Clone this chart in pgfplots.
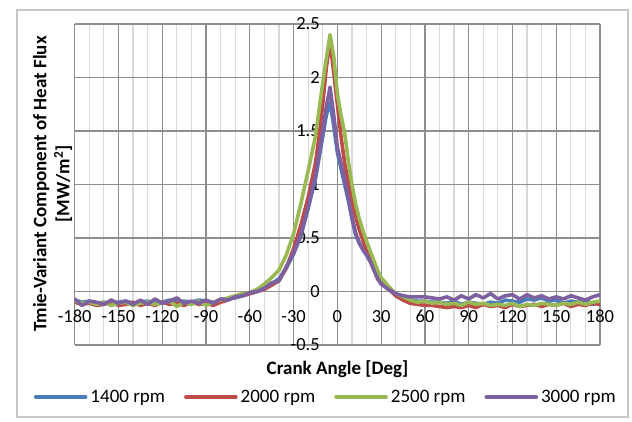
\documentclass[border=0pt]{standalone}
\usepackage{pgfplots}
\pgfplotsset{compat=1.18}
\usepackage{fontspec}
\setmainfont{Carlito}
\definecolor{cblue}{HTML}{4A7EBB}
\definecolor{cred}{HTML}{BE4B48}
\definecolor{cgreen}{HTML}{98B954}
\definecolor{cpurple}{HTML}{7D60A0}
\definecolor{gmajor}{HTML}{8E8E8E}
\definecolor{gminor}{HTML}{DADADA}
\begin{document}
\begin{tikzpicture}[x=1pt,y=1pt]
\useasboundingbox (0,0) rectangle (632,422);
\draw[gray!45, line width=1.3pt] (17,5) rectangle (628,412);
\begin{axis}[
  at={(74.7pt,77pt)}, anchor=south west,
  scale only axis, width=525.3pt, height=321pt,
  xmin=-180, xmax=180, ymin=-0.5, ymax=2.5,
  axis lines=middle,
  axis line style={-, draw=gmajor, line width=1.2pt},
  xtick={-180,-150,-120,-90,-60,-30,0,30,60,90,120,150,180},
  ytick={-0.5,0,0.5,1,1.5,2,2.5},
  minor x tick num=2,
  grid=both,
  major grid style={draw=gmajor, line width=1.2pt},
  minor grid style={draw=gminor, line width=1.2pt},
  tick style={draw=none},
  hide obscured x ticks=false, hide obscured y ticks=false,
  /pgf/number format/assume math mode=true,
  tick label style={font=\fontsize{18.5}{20}\selectfont},
  xticklabel style={anchor=north, yshift=-13pt},
  yticklabel style={anchor=east, xshift=-12pt},
  every axis plot/.append style={line width=3.6pt, line join=round, line cap=round},
  legend columns=4,
  legend cell align=left,
  legend image code/.code={\draw[#1] (0pt,0pt) -- (50pt,0pt);},
  legend style={at={(0.478,-0.162)}, anchor=center, draw=none, fill=none,
    font=\fontsize{19}{21}\selectfont, inner sep=0pt,
    /tikz/every even column/.append style={column sep=17pt},
    /tikz/every odd column/.append style={column sep=1pt}},
]
\addplot[cblue] coordinates {
(-180,-0.08) (-175,-0.10) (-170,-0.09) (-165,-0.11) (-160,-0.10) (-155,-0.12) (-150,-0.10) (-145,-0.09) (-140,-0.11) (-135,-0.10) (-130,-0.09) (-125,-0.11) (-120,-0.10) (-115,-0.08) (-110,-0.10) (-105,-0.09) (-100,-0.10) (-95,-0.08) (-90,-0.09) (-85,-0.10) (-80,-0.08) (-75,-0.07) (-70,-0.06) (-65,-0.04) (-60,-0.02) (-55,0.0) (-50,0.03) (-45,0.07) (-40,0.12) (-35,0.22) (-30,0.35) (-25,0.52) (-20,0.78) (-15,1.05) (-12.5,1.25) (-10,1.45) (-7.5,1.65) (-5,1.77) (-2.5,1.55) (0,1.30) (2.5,1.15) (5,1.00) (7.5,0.85) (10,0.68) (12.5,0.53) (15,0.46) (17.5,0.40) (20,0.34) (22.5,0.29) (25,0.22) (27.5,0.14) (30,0.08) (35,0.02) (40,-0.03) (45,-0.06) (50,-0.08) (55,-0.09) (60,-0.09) (65,-0.10) (70,-0.10) (75,-0.11) (80,-0.09) (85,-0.12) (90,-0.10) (95,-0.11) (100,-0.12) (105,-0.10) (110,-0.11) (115,-0.08) (120,-0.09) (125,-0.10) (130,-0.07) (135,-0.08) (140,-0.06) (145,-0.09) (150,-0.08) (155,-0.11) (160,-0.09) (165,-0.10) (170,-0.08) (175,-0.12) (180,-0.10)
};
\addlegendentry{1400 rpm}
\addplot[cred] coordinates {
(-180,-0.10) (-175,-0.12) (-170,-0.11) (-165,-0.13) (-160,-0.12) (-155,-0.10) (-150,-0.13) (-145,-0.12) (-140,-0.10) (-135,-0.13) (-130,-0.11) (-125,-0.13) (-120,-0.10) (-115,-0.12) (-110,-0.11) (-105,-0.13) (-100,-0.10) (-95,-0.12) (-90,-0.11) (-85,-0.13) (-80,-0.10) (-75,-0.08) (-70,-0.05) (-65,-0.04) (-60,-0.02) (-55,0.0) (-50,0.02) (-45,0.06) (-40,0.10) (-35,0.22) (-30,0.40) (-25,0.62) (-20,0.88) (-15,1.20) (-12.5,1.45) (-10,1.75) (-7.5,2.10) (-5,2.33) (-2.5,2.05) (0,1.75) (2.5,1.45) (5,1.20) (7.5,1.02) (10,0.85) (12.5,0.70) (15,0.58) (17.5,0.48) (20,0.38) (22.5,0.30) (25,0.23) (27.5,0.16) (30,0.10) (35,0.03) (40,-0.04) (45,-0.08) (50,-0.11) (55,-0.12) (60,-0.13) (65,-0.13) (70,-0.14) (75,-0.15) (80,-0.14) (85,-0.15) (90,-0.13) (95,-0.15) (100,-0.12) (105,-0.14) (110,-0.13) (115,-0.15) (120,-0.12) (125,-0.14) (130,-0.13) (135,-0.12) (140,-0.14) (145,-0.12) (150,-0.13) (155,-0.11) (160,-0.14) (165,-0.12) (170,-0.13) (175,-0.11) (180,-0.12)
};
\addlegendentry{2000 rpm}
\addplot[cgreen] coordinates {
(-180,-0.09) (-175,-0.11) (-170,-0.10) (-165,-0.12) (-160,-0.10) (-155,-0.13) (-150,-0.11) (-145,-0.10) (-140,-0.13) (-135,-0.11) (-130,-0.10) (-125,-0.12) (-120,-0.11) (-115,-0.09) (-110,-0.14) (-105,-0.10) (-100,-0.12) (-95,-0.09) (-90,-0.13) (-85,-0.10) (-80,-0.08) (-75,-0.06) (-70,-0.04) (-65,-0.02) (-60,-0.01) (-55,0.02) (-50,0.07) (-45,0.13) (-40,0.20) (-35,0.34) (-30,0.54) (-25,0.82) (-20,1.13) (-15,1.45) (-12.5,1.70) (-10,1.95) (-7.5,2.18) (-5,2.40) (-2.5,2.20) (0,1.85) (2.5,1.65) (5,1.48) (7.5,1.22) (10,1.00) (12.5,0.82) (15,0.68) (17.5,0.57) (20,0.47) (22.5,0.38) (25,0.29) (27.5,0.20) (30,0.13) (35,0.05) (40,-0.02) (45,-0.05) (50,-0.08) (55,-0.10) (60,-0.09) (65,-0.11) (70,-0.10) (75,-0.12) (80,-0.11) (85,-0.13) (90,-0.10) (95,-0.12) (100,-0.11) (105,-0.13) (110,-0.12) (115,-0.13) (120,-0.11) (125,-0.14) (130,-0.12) (135,-0.13) (140,-0.11) (145,-0.12) (150,-0.13) (155,-0.11) (160,-0.12) (165,-0.10) (170,-0.12) (175,-0.10) (180,-0.09)
};
\addlegendentry{2500 rpm}
\addplot[cpurple] coordinates {
(-180,-0.07) (-175,-0.13) (-170,-0.09) (-165,-0.10) (-160,-0.12) (-155,-0.08) (-150,-0.11) (-145,-0.09) (-140,-0.12) (-135,-0.08) (-130,-0.12) (-125,-0.07) (-120,-0.11) (-115,-0.09) (-110,-0.06) (-105,-0.11) (-100,-0.09) (-95,-0.11) (-90,-0.08) (-85,-0.11) (-80,-0.07) (-75,-0.08) (-70,-0.05) (-65,-0.04) (-60,-0.01) (-55,0.0) (-50,0.03) (-45,0.08) (-40,0.10) (-35,0.23) (-30,0.36) (-25,0.53) (-20,0.79) (-15,1.08) (-12.5,1.29) (-10,1.50) (-7.5,1.73) (-5,1.91) (-2.5,1.65) (0,1.35) (2.5,1.20) (5,1.05) (7.5,0.88) (10,0.70) (12.5,0.55) (15,0.45) (17.5,0.39) (20,0.34) (22.5,0.28) (25,0.20) (27.5,0.12) (30,0.07) (35,0.02) (40,-0.02) (45,-0.04) (50,-0.05) (55,-0.05) (60,-0.05) (65,-0.06) (70,-0.07) (75,-0.05) (80,-0.08) (85,-0.04) (90,-0.07) (95,-0.03) (100,-0.06) (105,-0.02) (110,-0.07) (115,-0.04) (120,-0.03) (125,-0.07) (130,-0.03) (135,-0.06) (140,-0.04) (145,-0.07) (150,-0.05) (155,-0.07) (160,-0.04) (165,-0.06) (170,-0.08) (175,-0.05) (180,-0.03)
};
\addlegendentry{3000 rpm}
\end{axis}
\node[rotate=90, align=center, font=\bfseries\fontsize{19}{23}\selectfont] at (52.5,238) {Tmie-Variant Component of Heat Flux\\{}[MW/m\textsuperscript{2}]};
\node[font=\bfseries\fontsize{19}{21}\selectfont] at (337.5,53) {Crank Angle [Deg]};
\end{tikzpicture}
\end{document}
